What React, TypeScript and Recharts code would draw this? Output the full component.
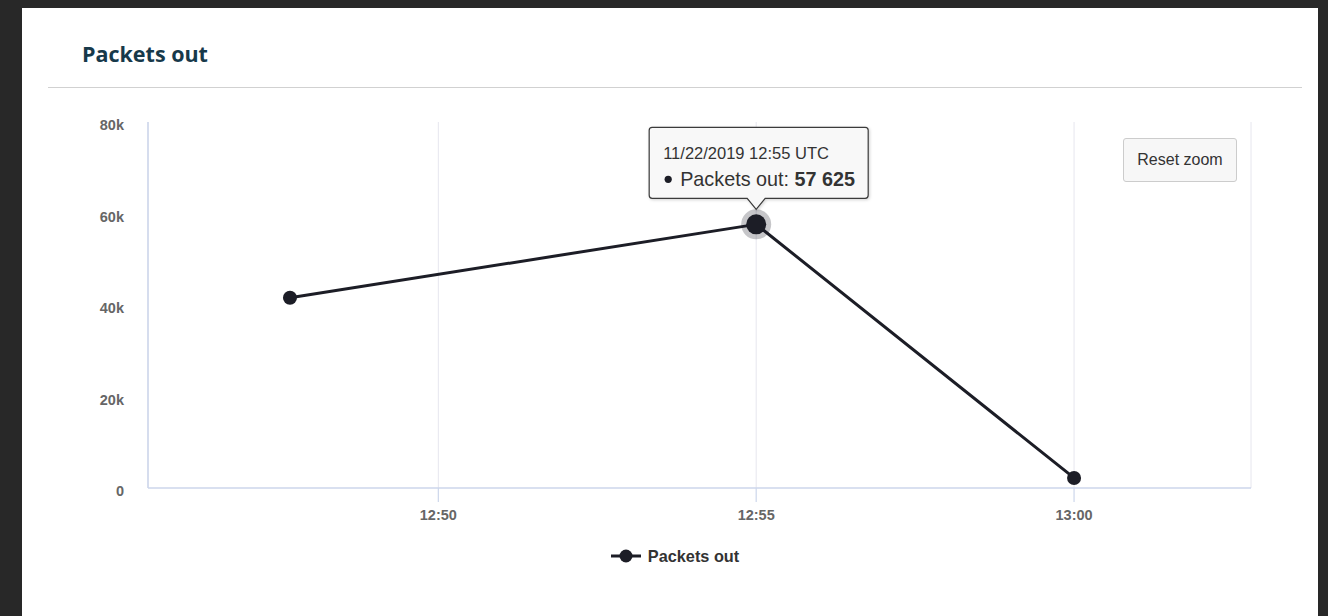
import React from 'react'
import { LineChart, Line, XAxis, YAxis, CartesianGrid, Legend } from 'recharts'

const SERIES_NAME = 'Packets out'
const DATE_LABEL = '11/22/2019'
const sampleTimes = ['12:47:40', '12:55:00', '13:00:00']
const packetsOut = [41600, 57625, 2200]
const xTicks = ['12:50', '12:55', '13:00']
const xRange = ['12:45:26', '13:02:47']
const yTicks = [0, 20000, 40000, 60000, 80000]
const HOVER_INDEX = 1

const LINE_COLOR = '#1c1d26'
const AXIS_COLOR = '#ccd6eb'
const FONT = '"Liberation Sans", Arial, sans-serif'

// "hh:mm(:ss)" -> minutes after midnight
const toMinutes = (t: string) => {
  const [h, m, s] = t.split(':').map(Number)
  return h * 60 + m + (s || 0) / 60
}

const fmtTime = (v: number) => {
  const h = Math.floor(v / 60)
  const m = Math.round(v - h * 60)
  return `${h}:${String(m).padStart(2, '0')}`
}

const fmtK = (v: number) => (v === 0 ? '0' : `${v / 1000}k`)
const fmtNum = (v: number) => String(v).replace(/\B(?=(\d{3})+(?!\d))/g, ' ')

const data = sampleTimes.map((t, i) => ({ t: toMinutes(t), value: packetsOut[i] }))

function YTick(props: any) {
  const { x, y, payload } = props
  return (
    <text x={x} y={y} dy={8} textAnchor="end" fill="#666" fontSize={14.5} fontWeight="bold" fontFamily={FONT}>
      {fmtK(payload.value)}
    </text>
  )
}

function XTick(props: any) {
  const { x, y, payload } = props
  return (
    <text x={x} y={y} dy={14} textAnchor="middle" fill="#666" fontSize={14.5} fontWeight="bold" fontFamily={FONT}>
      {fmtTime(payload.value)}
    </text>
  )
}

function PointDot(props: any) {
  const { cx, cy, index, payload } = props
  if (cx == null || cy == null) return <g />
  if (index !== HOVER_INDEX) {
    return <circle cx={cx} cy={cy} r={7} fill={LINE_COLOR} />
  }
  const L = cx - 107
  const R = cx + 112
  const T = cy - 97
  const B = cy - 26
  const r = 3
  const path = [
    `M ${L + r} ${T}`,
    `L ${R - r} ${T}`,
    `Q ${R} ${T} ${R} ${T + r}`,
    `L ${R} ${B - r}`,
    `Q ${R} ${B} ${R - r} ${B}`,
    `L ${cx + 9} ${B}`,
    `L ${cx} ${cy - 15}`,
    `L ${cx - 9} ${B}`,
    `L ${L + r} ${B}`,
    `Q ${L} ${B} ${L} ${B - r}`,
    `L ${L} ${T + r}`,
    `Q ${L} ${T} ${L + r} ${T}`,
    'Z',
  ].join(' ')
  return (
    <g>
      <circle cx={cx} cy={cy} r={15} fill={LINE_COLOR} fillOpacity={0.25} />
      <circle cx={cx} cy={cy} r={10} fill={LINE_COLOR} />
      <path d={path} fill="#f9f9f9" fillOpacity={0.96} stroke="#3a3a3a" strokeWidth={1.2} filter="url(#tipShadow)" />
      <text x={L + 14} y={cy - 65} fontSize={16.5} fill="#333" fontFamily={FONT}>
        {`${DATE_LABEL} ${fmtTime(payload.t)} UTC`}
      </text>
      <circle cx={L + 19} cy={cy - 45} r={3.6} fill={LINE_COLOR} />
      <text x={L + 31} y={cy - 38} fontSize={19.8} fill="#333" fontFamily={FONT}>
        {`${SERIES_NAME}: `}
        <tspan fontWeight="bold">{fmtNum(payload.value)}</tspan>
      </text>
    </g>
  )
}

function LegendContent() {
  return (
    <div
      style={{
        height: 50,
        boxSizing: 'border-box',
        paddingTop: 6,
        display: 'flex',
        alignItems: 'center',
        justifyContent: 'center',
        fontFamily: FONT,
      }}
    >
      <svg width={30} height={16} style={{ marginRight: 7 }}>
        <line x1={0} y1={8} x2={30} y2={8} stroke={LINE_COLOR} strokeWidth={3} />
        <circle cx={15} cy={8} r={6.5} fill={LINE_COLOR} />
      </svg>
      <span style={{ fontSize: 16.3, fontWeight: 'bold', color: '#333' }}>{SERIES_NAME}</span>
    </div>
  )
}

export default function App() {
  return (
    <div style={{ position: 'fixed', inset: 0, background: '#282828', overflow: 'hidden' }}>
      <div style={{ position: 'absolute', left: 22, top: 8, width: 1296, height: 700, background: '#fff' }} />
      <div
        style={{
          position: 'absolute',
          left: 82,
          top: 40,
          fontFamily: '"Open Sans", sans-serif',
          fontWeight: 700,
          fontSize: 21.5,
          lineHeight: '28px',
          color: '#17394a',
          whiteSpace: 'nowrap',
        }}
      >
        {SERIES_NAME}
      </div>
      <div style={{ position: 'absolute', left: 48, top: 87, width: 1254, height: 1, background: '#d1d1d1' }} />
      <div style={{ position: 'absolute', left: 48, top: 100 }}>
        <LineChart width={1254} height={478} data={data} margin={{ top: 22, right: 51, bottom: 0, left: 0 }}>
          <defs>
            <filter id="tipShadow" x="-20%" y="-20%" width="140%" height="160%">
              <feDropShadow dx={1} dy={1} stdDeviation={1.5} floodColor="#000" floodOpacity={0.18} />
            </filter>
          </defs>
          <CartesianGrid horizontal={false} stroke="#e6e6ee" strokeWidth={1} />
          <XAxis
            dataKey="t"
            type="number"
            domain={xRange.map(toMinutes)}
            ticks={xTicks.map(toMinutes)}
            interval={0}
            height={40}
            axisLine={{ stroke: AXIS_COLOR, strokeWidth: 1.5 }}
            tickLine={{ stroke: AXIS_COLOR, strokeWidth: 1.2 }}
            tickSize={14}
            tickMargin={4}
            tick={<XTick />}
          />
          <YAxis
            type="number"
            domain={[0, 80000]}
            ticks={yTicks}
            interval={0}
            width={100}
            axisLine={{ stroke: AXIS_COLOR, strokeWidth: 1.5 }}
            tickLine={false}
            tickSize={0}
            tickMargin={24}
            tick={<YTick />}
          />
          <Legend
            verticalAlign="bottom"
            align="center"
            content={<LegendContent />}
            wrapperStyle={{ left: 0, width: 1254 }}
          />
          <Line
            type="linear"
            dataKey="value"
            name={SERIES_NAME}
            stroke={LINE_COLOR}
            strokeWidth={3}
            strokeLinejoin="round"
            dot={(p: any) => <PointDot key={`dot-${p.index}`} {...p} />}
            activeDot={false}
            isAnimationActive={false}
          />
        </LineChart>
      </div>
      <div
        style={{
          position: 'absolute',
          left: 1123,
          top: 138,
          width: 114,
          height: 44,
          boxSizing: 'border-box',
          background: '#f7f7f7',
          border: '1px solid #cccccc',
          borderRadius: 3,
          fontFamily: FONT,
          fontSize: 16,
          color: '#333',
          display: 'flex',
          alignItems: 'center',
          justifyContent: 'center',
        }}
      >
        Reset zoom
      </div>
    </div>
  )
}
